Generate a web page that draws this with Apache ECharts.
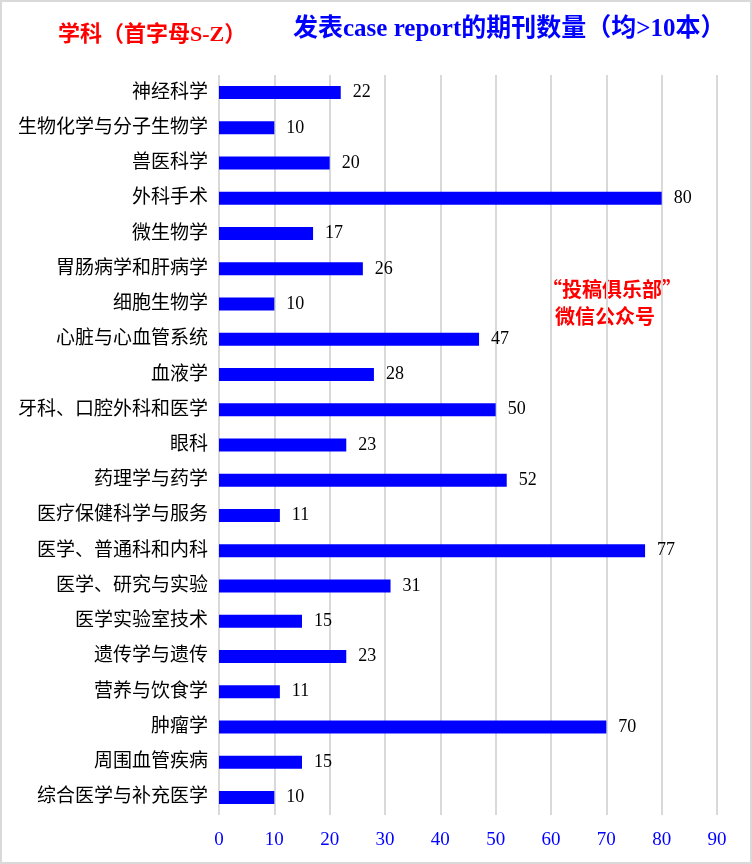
<!DOCTYPE html>
<html><head><meta charset="utf-8">
<script src="https://cdn.jsdelivr.net/npm/echarts@6/dist/echarts.min.js"></script>
<style>html,body{margin:0;padding:0;background:#fff}#c{width:752px;height:864px;box-sizing:border-box;border:2px solid #d9d9d9}</style>
</head><body><div id="c"></div>
<script>
const categories = ['神经科学','生物化学与分子生物学','兽医科学','外科手术','微生物学','胃肠病学和肝病学','细胞生物学','心脏与心血管系统','血液学','牙科、口腔外科和医学','眼科','药理学与药学','医疗保健科学与服务','医学、普通科和内科','医学、研究与实验','医学实验室技术','遗传学与遗传','营养与饮食学','肿瘤学','周围血管疾病','综合医学与补充医学'];
const values = [22,10,20,80,17,26,10,47,28,50,23,52,11,77,31,15,23,11,70,15,10];
const xTicks = [0,10,20,30,40,50,60,70,80,90];
const FONT = '"Liberation Serif","Noto Sans CJK SC",serif';
const CJK = '"Noto Sans CJK SC",sans-serif';
const chart = echarts.init(document.getElementById('c'));
chart.setOption({
  animation:false,
  textStyle:{fontFamily:FONT},
  graphic:[
    {type:'text',left:56,top:22,style:{text:'学科（首字母S-Z）',fill:'#ff0000',font:'bold 22px '+FONT}},
    {type:'text',left:291,top:15,style:{text:'发表case report的期刊数量（均>10本）',fill:'#0000ff',font:'bold 25px '+FONT}},
    {type:'text',x:610,y:277,style:{text:'“投稿俱乐部”',fill:'#ff0000',font:'bold 20px '+CJK,textAlign:'center'}},
    {type:'text',x:603,y:304,style:{text:'微信公众号',fill:'#ff0000',font:'bold 20px '+CJK,textAlign:'center'}}
  ],
  grid:{left:217,right:33,top:73,bottom:47,containLabel:false},
  xAxis:{type:'value',min:0,max:90,interval:10,
    axisLine:{show:false},axisTick:{show:false},
    splitLine:{show:true,lineStyle:{color:'#d9d9d9',width:2}},
    axisLabel:{color:'#0000ff',fontSize:19,fontFamily:FONT,margin:16,formatter:v=>xTicks.includes(v)?String(v):''}},
  yAxis:{type:'category',data:categories,inverse:true,
    axisLine:{show:false},axisTick:{show:false},
    axisLabel:{color:'#000',fontSize:19,fontFamily:FONT,margin:11}},
  series:[{type:'bar',data:values,barWidth:13,itemStyle:{color:'#0000ff'},
    label:{show:true,position:'right',distance:12,color:'#000',fontSize:18,fontFamily:FONT}}]
});
</script></body></html>
